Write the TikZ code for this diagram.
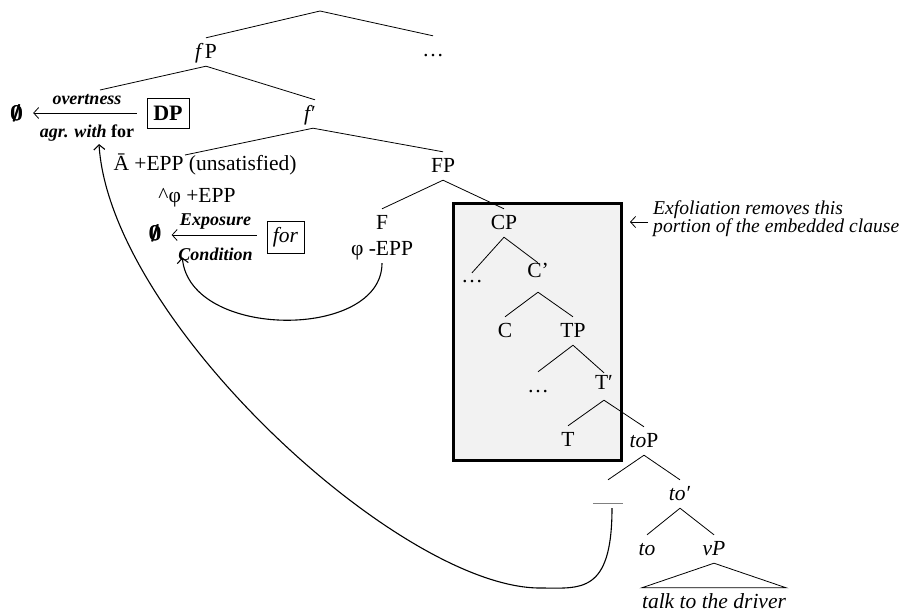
\documentclass[tikz,border=0pt]{standalone}
\usepackage{fontspec}
\usepackage{amsmath}
\setmainfont{Liberation Serif}
\usetikzlibrary{arrows.meta}
\definecolor{boxgray}{HTML}{F2F2F2}
\definecolor{blankgray}{HTML}{808080}
\newcommand{\heavynull}{\rlap{$\boldsymbol{\emptyset}$}\kern0.5pt\rlap{$\boldsymbol{\emptyset}$}\kern0.5pt$\boldsymbol{\emptyset}$}
\begin{document}
\begin{tikzpicture}[x=1pt,y=-1pt,
  lab/.style={inner sep=0pt, anchor=base, text height=20pt, text depth=8pt, font=\fontsize{21.5}{24}\selectfont},
  sm/.style={inner sep=0pt, anchor=base, font=\fontsize{18}{20}\selectfont\bfseries\itshape},
  exf/.style={inner sep=0pt, anchor=base west, font=\fontsize{19.6}{21}\selectfont\itshape},
  edge/.style={line width=0.8pt},
  arr/.style={line width=0.8pt, -{Straight Barb[length=5pt,width=11pt]}},
  curv/.style={line width=1.1pt, -{Straight Barb[length=5pt,width=11pt]}},
  nul/.style={inner sep=0pt, font=\fontsize{21}{22}\selectfont},
  boxed/.style={draw, line width=0.9pt, inner sep=0pt}
]
\useasboundingbox (0,0) rectangle (905,611);

% exfoliation box
\node[draw, line width=3pt, fill=boxgray, minimum width=168pt, minimum height=257pt, inner sep=0pt] (exbox) at (537.5,331.5) {};

% top
\coordinate (top) at (320,11);
\node[lab] (fP) at (206,58) {\textit{f}\kern1.5pt P};
\node[lab] (dots1) at (433,56) {…};

\node[lab] (fbar) at (310,120) {\textit{f\kern1pt}′};
\coordinate (grpA) at (100,90);

% DP construction
\node[boxed, minimum width=42pt, minimum height=30pt, font=\fontsize{22}{24}\selectfont\bfseries] (DP) at (168,113) {DP};
\node[nul] (null1) at (16.5,113.5) {\heavynull};
\node[sm] (overt) at (87,104) {overtness};
\node[sm] (agr) at (87,137) {agr. with {\upshape for}};
\draw[arr, shorten <=10pt, shorten >=10pt] (DP.west) -- (DP.west -| null1.east);

% f' children
\coordinate (grpB) at (185,155);
\node[lab] (FP) at (443,172) {FP};
\node[lab] (abar) at (205,170) {Ā +EPP (unsatisfied)};
\node[lab] (phi1) at (197,202) {\textasciicircum φ +EPP};

% for construction
\node[boxed, minimum width=37pt, minimum height=32pt, font=\fontsize{21.5}{24}\selectfont\itshape] (for) at (285.5,237) {for};
\node[nul] (null2) at (155,233.5) {\heavynull};
\node[sm] (expo) at (215.5,225) {Exposure};
\node[sm] (cond) at (215.5,260) {Condition};
\draw[arr, shorten <=10pt, shorten >=10pt] (for.west |- 0,235) -- (null2.east |- 0,235);

\node[lab] (F) at (382,229) {F};
\node[lab] (phiepp) at (382,255) {φ -EPP};

% embedded clause
\node[lab] (CP) at (504,229) {CP};
\node[lab, text height=9pt] (dots2) at (472,282) {…};
\node[lab, text height=14pt, text depth=15pt] (Cbar) at (538,277) {C’};
\node[lab] (C) at (505,337) {C};
\node[lab] (TP) at (573,337) {TP};
\node[lab] (dots3) at (538,392) {…};
\node[lab, text height=16pt, text depth=11pt] (Tbar) at (604,389) {T′};
\node[lab] (T) at (568,446) {T};
\node[lab] (toP) at (644,447) {\textit{to}P};
\node[inner sep=0pt, minimum width=30pt, minimum height=46pt] (blank) at (608,503) {};
\draw[blankgray, line width=1pt] (blank.west) -- (blank.east);
\node[lab] (tobar) at (680,500) {\textit{to\kern1pt}′};
\node[lab] (to) at (647,555) {\textit{to}};
\node[lab] (vP) at (714,555) {\textit{vP}};
\node[lab] (talk) at (714,608) {\textit{talk to the driver}};

% exfoliation note
\node[exf] (exf1) at (653,214) {Exfoliation removes this};
\node[exf] (exf2) at (653,232) {portion of the embedded clause};
\coordinate (exarr) at (630,222);
\draw[arr] ([xshift=-5pt,yshift=-8pt]exf1.base west) -- (exarr);

% tree edges
\draw[edge] (top) -- (fP.north);
\draw[edge] (top) -- (dots1.north);
\draw[edge] (fP.south) -- (grpA);
\draw[edge] (fP.south) -- ([xshift=5pt]fbar.north);
\draw[edge] ([xshift=3pt]fbar.south) -- (grpB);
\draw[edge] ([xshift=3pt]fbar.south) -- (FP.north);
\draw[edge] (FP.south) -- (F.north);
\draw[edge] (FP.south) -- (CP.north);
\draw[edge] (CP.south) -- (dots2.north);
\draw[edge] (CP.south) -- (Cbar.north);
\draw[edge] (Cbar.south) -- (C.north);
\draw[edge] (Cbar.south) -- (TP.north);
\draw[edge] (TP.south) -- (dots3.north);
\draw[edge] (TP.south) -- (Tbar.north);
\draw[edge] (Tbar.south) -- (T.north);
\draw[edge] (Tbar.south) -- (toP.north);
\draw[edge] (toP.south) -- (blank.north);
\draw[edge] (toP.south) -- (tobar.north);
\draw[edge] (tobar.south) -- (to.north);
\draw[edge] (tobar.south) -- (vP.north);
\draw[edge] (vP.south) -- (talk.north west) -- (talk.north east) -- cycle;

% movement curves
\draw[curv] (phiepp.south) .. controls (382,340) and (190,340) .. ([xshift=4pt,yshift=3pt]cond.south west);
\draw[curv] ([xshift=4pt,yshift=-5pt]blank.center) .. controls (612,595) and (580,588) .. (540,588)
   .. controls (400,588) and (110,320) .. ([xshift=12pt,yshift=-3pt]agr.south);
\end{tikzpicture}
\end{document}
